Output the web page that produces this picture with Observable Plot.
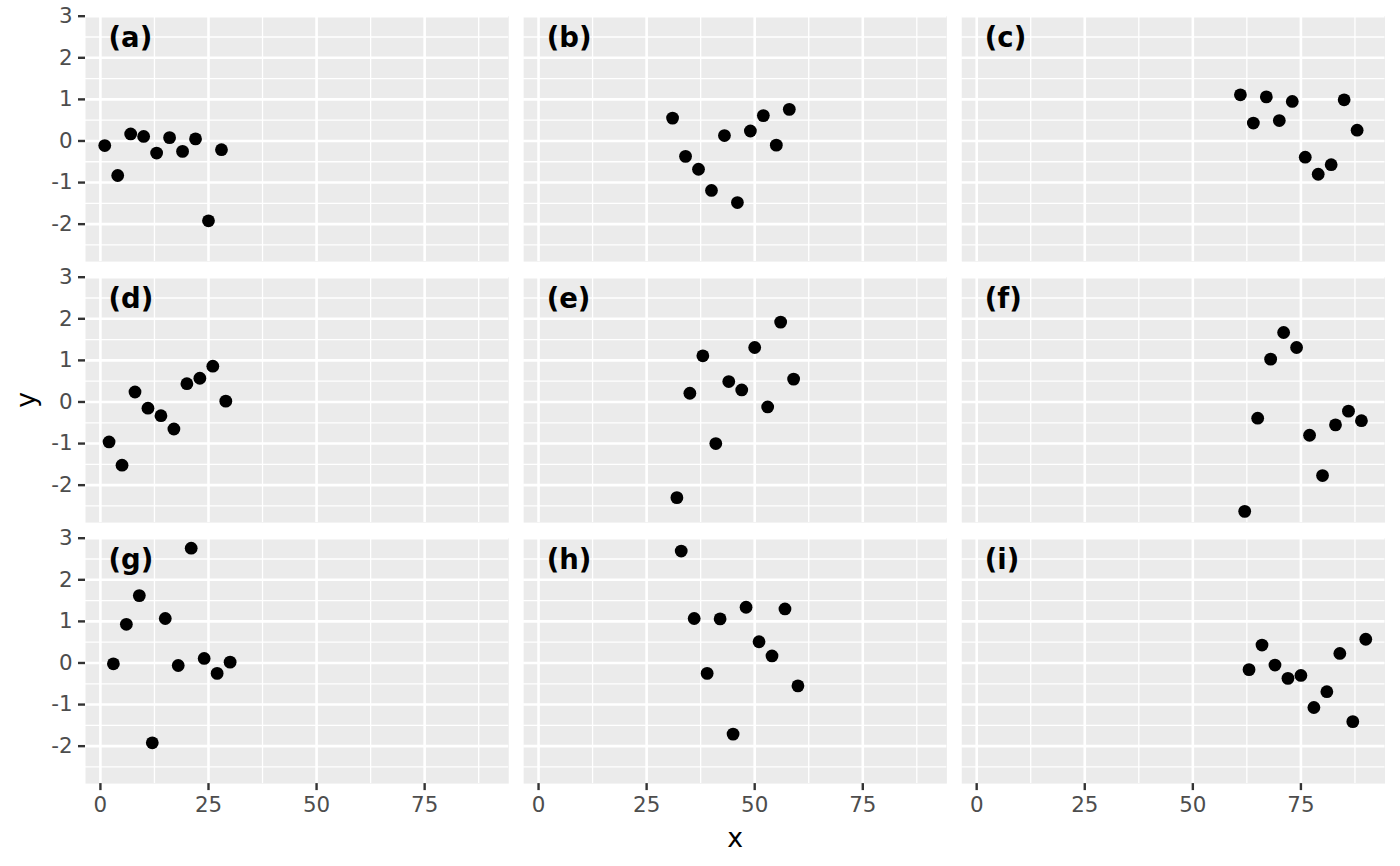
<!DOCTYPE html>
<html>
<head>
<meta charset="utf-8">
<script src="https://cdn.jsdelivr.net/npm/d3@7"></script>
<script src="https://cdn.jsdelivr.net/npm/@observablehq/plot@0.6"></script>
<style>
  html, body { margin: 0; padding: 0; background: #ffffff; }
  #chart { width: 1400px; height: 866px; }
</style>
</head>
<body>
<div id="chart"></div>
<script>
// ---- data ----
const panelLabels = ["(a)", "(b)", "(c)", "(d)", "(e)", "(f)", "(g)", "(h)", "(i)"];

const xA = [1, 4, 7, 10, 13, 16, 19, 22, 25, 28];
const xB = [31, 34, 37, 40, 43, 46, 49, 52, 55, 58];
const xC = [61, 64, 67, 70, 73, 76, 79, 82, 85, 88];
const xD = [2, 5, 8, 11, 14, 17, 20, 23, 26, 29];
const xE = [32, 35, 38, 41, 44, 47, 50, 53, 56, 59];
const xF = [62, 65, 68, 71, 74, 77, 80, 83, 86, 89];
const xG = [3, 6, 9, 12, 15, 18, 21, 24, 27, 30];
const xH = [33, 36, 39, 42, 45, 48, 51, 54, 57, 60];
const xI = [63, 66, 69, 72, 75, 78, 81, 84, 87, 90];

const yA = [-0.11, -0.83, 0.17, 0.11, -0.29, 0.08, -0.25, 0.05, -1.92, -0.21];
const yB = [0.55, -0.37, -0.68, -1.19, 0.13, -1.48, 0.24, 0.61, -0.10, 0.76];
const yC = [1.11, 0.43, 1.06, 0.49, 0.95, -0.39, -0.80, -0.57, 0.99, 0.26];
const yD = [-0.96, -1.52, 0.24, -0.15, -0.33, -0.65, 0.44, 0.57, 0.86, 0.02];
const yE = [-2.30, 0.21, 1.11, -1.00, 0.49, 0.29, 1.31, -0.12, 1.92, 0.55];
const yF = [-2.63, -0.39, 1.03, 1.67, 1.31, -0.80, -1.77, -0.55, -0.22, -0.45];
const yG = [-0.02, 0.93, 1.62, -1.92, 1.07, -0.06, 2.76, 0.11, -0.25, 0.02];
const yH = [2.69, 1.07, -0.25, 1.06, -1.71, 1.34, 0.51, 0.17, 1.30, -0.55];
const yI = [-0.16, 0.43, -0.05, -0.37, -0.30, -1.07, -0.69, 0.23, -1.41, 0.57];

const xTicks = [0, 25, 50, 75];
const xMinor = [12.5, 37.5, 62.5, 87.5];
const yTicks = [-2, -1, 0, 1, 2, 3];
const yMinor = [-2.5, -1.5, -0.5, 0.5, 1.5, 2.5];

// ---- build table ----
const xs = [xA, xB, xC, xD, xE, xF, xG, xH, xI];
const ys = [yA, yB, yC, yD, yE, yF, yG, yH, yI];
const points = [];
xs.forEach((xArr, p) => {
  xArr.forEach((x, k) => {
    points.push({x, y: ys[p][k], col: p % 3, row: Math.floor(p / 3)});
  });
});
const labels = panelLabels.map((label, p) => ({label, col: p % 3, row: Math.floor(p / 3)}));

const font = "DejaVu Sans, Verdana, sans-serif";

const chart = Plot.plot({
  width: 1400,
  height: 866,
  marginLeft: 85,
  marginRight: 15.5,
  marginTop: 15.7,
  marginBottom: 82.9,
  style: {fontFamily: font, background: "#ffffff", overflow: "visible"},
  fx: {domain: [0, 1, 2], paddingInner: 0.034, paddingOuter: 0, axis: null, round: false},
  fy: {domain: [0, 1, 2], paddingInner: 0.0598, paddingOuter: 0, axis: null, round: false},
  x: {domain: [-3.45, 94.45], axis: null},
  y: {domain: [-2.9, 3.0], axis: null},
  marks: [
    Plot.frame({fill: "#EBEBEB", stroke: null}),
    Plot.gridX(xMinor, {stroke: "#ffffff", strokeOpacity: 1, strokeWidth: 1.3}),
    Plot.gridY(yMinor, {stroke: "#ffffff", strokeOpacity: 1, strokeWidth: 1.3}),
    Plot.gridX(xTicks, {stroke: "#ffffff", strokeOpacity: 1, strokeWidth: 2.6}),
    Plot.gridY(yTicks, {stroke: "#ffffff", strokeOpacity: 1, strokeWidth: 2.6}),
    Plot.dot(points, {x: "x", y: "y", fx: "col", fy: "row", r: 6.4, fill: "#000000", stroke: null}),
    Plot.text(labels, {
      text: "label", fx: "col", fy: "row",
      frameAnchor: "top-left", textAnchor: "start", lineAnchor: "middle",
      dx: 23, dy: 21.5,
      fontSize: 27.5, fontWeight: "bold", fill: "#000000", fontFamily: font
    }),
    Plot.axisX(xTicks, {
      facetAnchor: "bottom", anchor: "bottom",
      tickSize: 7, tickPadding: 6, strokeWidth: 2.4, stroke: "#333333",
      fill: "#4D4D4D", fontSize: 21.4, fontFamily: font,
      tickFormat: d => String(d), label: null
    }),
    Plot.axisY(yTicks, {
      facetAnchor: "left", anchor: "left",
      tickSize: 7, tickPadding: 6, strokeWidth: 2.4, stroke: "#333333",
      fill: "#4D4D4D", fontSize: 21.4, fontFamily: font,
      tickFormat: d => String(d), label: null
    }),
    Plot.text(["x"], {
      facet: "super", frameAnchor: "bottom", lineAnchor: "middle", textAnchor: "middle",
      dy: 55, fontSize: 26.7, fill: "#000000", fontFamily: font
    }),
    Plot.text(["y"], {
      facet: "super", frameAnchor: "left", lineAnchor: "middle", textAnchor: "middle",
      rotate: -90, dx: -59, fontSize: 26.7, fill: "#000000", fontFamily: font
    })
  ]
});
document.getElementById("chart").appendChild(chart);
</script>
</body>
</html>
